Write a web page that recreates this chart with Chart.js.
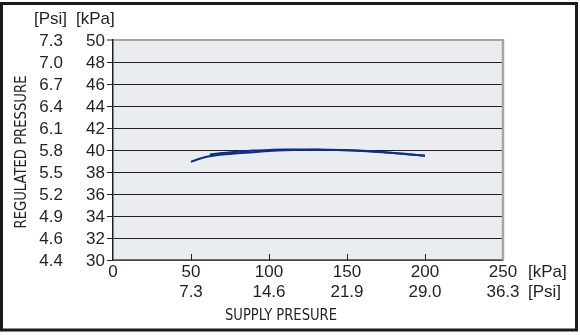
<!DOCTYPE html>
<html>
<head>
<meta charset="utf-8">
<script src="https://cdn.jsdelivr.net/npm/chart.js@4.4.1/dist/chart.umd.min.js"></script>
<style>
    html, body { margin: 0; padding: 0; background: #fff; }
    #wrap { width: 580px; height: 335px; }
</style>
</head>
<body>
<div id="wrap"><canvas id="grafico" width="580" height="335"></canvas></div>
<script>
// ticks
var xTicksKpa = [0, 50, 100, 150, 200, 250]
var xTicksPsi = ['', '7.3', '14.6', '21.9', '29.0', '36.3']
var yTicksKpa = [30, 32, 34, 36, 38, 40, 42, 44, 46, 48, 50]
var yTicksPsi = ['4.4', '4.6', '4.9', '5.2', '5.5', '5.8', '6.1', '6.4', '6.7', '7.0', '7.3']

// supply pressure rising
var supplySubida = [50, 55, 60, 65, 70, 80, 90, 100, 110, 120, 130, 140, 150, 160, 170, 180, 190, 200]
var reguladaSubida = [38.92, 39.18, 39.38, 39.5, 39.58, 39.7, 39.8, 39.9, 39.97, 40.0, 40.02, 40.0, 39.97, 39.9, 39.82, 39.72, 39.62, 39.48]
// supply pressure falling
var supplyBajada = [200, 190, 180, 170, 160, 150, 140, 130, 120, 110, 100, 90, 80, 70, 62]
var reguladaBajada = [39.48, 39.6, 39.72, 39.85, 39.93, 39.98, 40.02, 40.05, 40.05, 40.04, 40.0, 39.95, 39.85, 39.72, 39.6]

var COLOR_TEXTO = '#231f20'
var COLOR_LINEA = '#0c2e8c'
var FUENTE = '"Liberation Sans", Arial, sans-serif'
var FUENTE_NARROW = '"Liberation Sans Narrow", "DejaVu Sans Condensed", sans-serif'

Chart.defaults.font.family = FUENTE
Chart.defaults.color = COLOR_TEXTO

function toPuntos(xs, ys) {
    return xs.map((x, i) => ({x: x, y: ys[i]}))
}

// condensed title text, squeezed to the width it has in the picture
function textoAngosto(ctx, texto, cx, cy, ancho, rotar) {
    ctx.save()
    ctx.font = '16px ' + FUENTE_NARROW
    ctx.textAlign = 'center'
    ctx.textBaseline = 'middle'
    let w = ctx.measureText(texto).width
    ctx.translate(cx, cy)
    if (rotar) ctx.rotate(-Math.PI / 2)
    ctx.scale(ancho / w, 1)
    ctx.fillText(texto, 0, 0)
    ctx.restore()
}

var fondoPlugin = {
    id: 'fondo',
    beforeDraw(chart) {
        let ctx = chart.ctx, a = chart.chartArea
        ctx.save()
        ctx.fillStyle = '#fff'
        ctx.fillRect(0, 0, chart.width, chart.height)
        ctx.fillStyle = '#e9edf0'
        ctx.fillRect(a.left, a.top, a.right - a.left, a.bottom - a.top)
        ctx.restore()
    },
    afterDraw(chart) {
        let ctx = chart.ctx, a = chart.chartArea
        let xs = chart.scales.x
        ctx.save()
        // right border of plot
        ctx.strokeStyle = '#a3a5a8'
        ctx.lineWidth = 2.5
        ctx.beginPath()
        ctx.moveTo(a.right, a.top - 1)
        ctx.lineTo(a.right, a.bottom)
        ctx.stroke()
        // inward ticks on the x axis
        ctx.strokeStyle = COLOR_TEXTO
        ctx.lineWidth = 1
        xTicksKpa.forEach(v => {
            if (v == 0 || v == 250) return
            let px = Math.round(xs.getPixelForValue(v)) + 0.5
            ctx.beginPath()
            ctx.moveTo(px, a.bottom)
            ctx.lineTo(px, a.bottom - 6)
            ctx.stroke()
        })
        // unit labels
        ctx.fillStyle = COLOR_TEXTO
        ctx.font = '17px ' + FUENTE
        ctx.textBaseline = 'middle'
        ctx.textAlign = 'left'
        ctx.fillText('[Psi]', 34, 19)
        ctx.fillText('[kPa]', 76, 19)
        ctx.fillText('[kPa]', 528, 272)
        ctx.fillText('[Psi]', 528, 292)
        ctx.restore()
        // axis titles
        ctx.fillStyle = COLOR_TEXTO
        textoAngosto(ctx, 'SUPPLY PRESURE', 281, 316, 112, false)
        textoAngosto(ctx, 'REGULATED PRESSURE', 22, 152, 153, true)
        // outer frame
        ctx.save()
        ctx.strokeStyle = '#1a1a1a'
        ctx.lineWidth = 3
        ctx.strokeRect(1.5, 3.5, 575, 326.5)
        ctx.restore()
    }
}

var dataGrafico = {
    datasets: [{
        label: 'subida',
        data: toPuntos(supplySubida, reguladaSubida),
        borderColor: COLOR_LINEA,
        borderWidth: 2,
        pointRadius: 0,
        tension: 0.4,
        showLine: true
    }, {
        label: 'bajada',
        data: toPuntos(supplyBajada, reguladaBajada),
        borderColor: COLOR_LINEA,
        borderWidth: 2,
        pointRadius: 0,
        tension: 0.4,
        showLine: true
    }]
}

var optionsGrafico = {
    responsive: false,
    animation: false,
    layout: {padding: {left: 10, right: 77, top: 40, bottom: 0}},
    plugins: {legend: {display: false}, tooltip: {enabled: false}},
    scales: {
        x: {
            type: 'linear', position: 'bottom', min: 0, max: 250,
            afterBuildTicks: s => { s.ticks = xTicksKpa.map(v => ({value: v})) },
            afterFit: s => { s.height = 75 },
            grid: {display: false, drawTicks: false},
            border: {display: true, color: '#6d6f72', width: 1.5},
            ticks: {
                padding: 2, maxRotation: 0, autoSkip: false,
                font: {size: 17, lineHeight: 1.18},
                callback: (v, i) => xTicksPsi[i] ? [String(xTicksKpa[i]), xTicksPsi[i]] : String(xTicksKpa[i])
            }
        },
        y: {
            type: 'linear', position: 'left', weight: 0, min: 30, max: 50,
            afterBuildTicks: s => { s.ticks = yTicksKpa.map(v => ({value: v})) },
            afterFit: s => { s.width = 43 },
            grid: {
                color: ctx => ctx.tick && ctx.tick.value == 50 ? '#a3a5a8' : COLOR_TEXTO,
                lineWidth: ctx => ctx.tick && ctx.tick.value == 50 ? 2 : 1,
                tickColor: COLOR_TEXTO, tickLength: 6, tickWidth: 1
            },
            border: {display: true, color: COLOR_TEXTO, width: 1.5},
            ticks: {padding: 2, labelOffset: 1, autoSkip: false, font: {size: 17}, callback: (v, i) => String(yTicksKpa[i])}
        },
        yPsi: {
            type: 'linear', position: 'left', weight: 1, min: 30, max: 50,
            afterBuildTicks: s => { s.ticks = yTicksKpa.map(v => ({value: v})) },
            afterFit: s => { s.width = 60 },
            grid: {display: false, drawTicks: false},
            border: {display: false},
            ticks: {padding: 7, labelOffset: 1, autoSkip: false, font: {size: 17}, callback: (v, i) => yTicksPsi[i]}
        }
    }
}

var chart = new Chart('grafico', {type: 'scatter', data: dataGrafico, options: optionsGrafico, plugins: [fondoPlugin]})
</script>
</body>
</html>
